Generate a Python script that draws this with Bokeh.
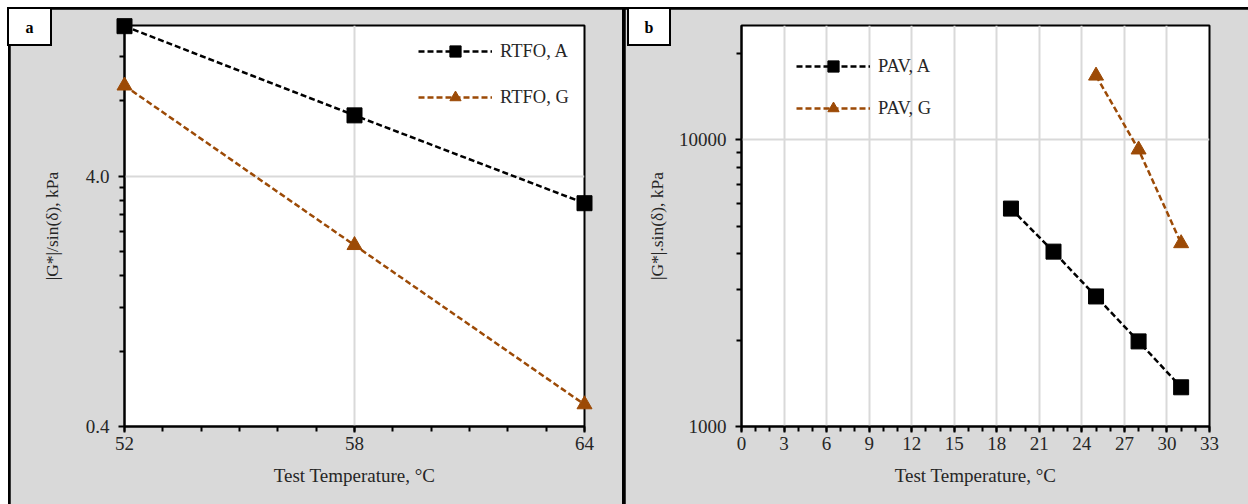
from bokeh.plotting import figure
from bokeh.layouts import row, column
from bokeh.models import (Range1d, FixedTicker, CustomJSTickFormatter, Legend,
                          LegendItem, Div)
from bokeh.embed import file_html
from bokeh.resources import INLINE

# ---------------- data ----------------
# panel a
temp_a = [52, 58, 64]
rtfo_A = [15.9, 7.0, 3.12]
rtfo_G = [9.2, 2.12, 0.49]
# panel b
temp_pav_A = [19, 22, 25, 28, 31]
pav_A = [5750, 4070, 2840, 1980, 1370]
temp_pav_G = [25, 28, 31]
pav_G = [16700, 9230, 4350]

# ticks
xticks_a = [52, 58, 64]
xminor_a = list(range(52, 65))
yticks_a = [0.4, 4.0]
yminor_a = [0.8, 1.2, 1.6, 2.0, 2.4, 2.8, 3.2, 3.6, 8.0, 12.0]
xticks_b = list(range(0, 34, 3))
xminor_b = list(range(0, 34))
yticks_b = [1000, 10000]
yminor_b = [2000, 3000, 4000, 5000, 6000, 7000, 8000, 9000, 20000]

BROWN = "#9C4A06"
GRAY_BG = "#d9d9d9"
GRID = "#d9d9d9"
FONT = "Liberation Serif"
TICK_FS = "19px"
XLAB_FS = "19px"
YLAB_FS = "17.5px"
LEG_FS = "18.5px"


def style(p, xlabel, ylabel, ylabel_standoff):
    p.background_fill_color = "white"
    p.border_fill_color = GRAY_BG
    p.outline_line_color = "black"
    p.outline_line_width = 2
    for ax in (p.xaxis[0], p.yaxis[0]):
        ax.axis_line_color = "black"
        ax.axis_line_width = 2
        ax.major_tick_line_color = "black"
        ax.major_tick_line_width = 2
        ax.minor_tick_line_color = "black"
        ax.minor_tick_line_width = 2
        ax.major_tick_in = 0
        ax.minor_tick_in = 0
        ax.major_tick_out = 6
        ax.minor_tick_out = 5
        ax.major_label_text_font = FONT
        ax.major_label_text_font_size = TICK_FS
        ax.major_label_text_color = "#262626"
        ax.axis_label_text_font = FONT
        ax.axis_label_text_font_style = "normal"
        ax.axis_label_text_color = "#262626"
    p.xaxis.axis_label = xlabel
    p.yaxis.axis_label = ylabel
    p.xaxis.axis_label_text_font_size = XLAB_FS
    p.yaxis.axis_label_text_font_size = YLAB_FS
    p.xaxis.major_label_standoff = 4
    p.xaxis.axis_label_standoff = 12
    p.yaxis.major_label_standoff = 9
    p.yaxis.axis_label_standoff = ylabel_standoff
    p.xgrid.grid_line_color = GRID
    p.ygrid.grid_line_color = GRID
    p.xgrid.grid_line_width = 2
    p.ygrid.grid_line_width = 2


def series(p, x, y, color, marker, size, label):
    ln = p.line(x, y, line_color=color, line_width=2.5, line_dash="6 3")
    sc = p.scatter(x, y, marker=marker, size=size, fill_color=color,
                   line_color=color, level="overlay")
    return LegendItem(label=label, renderers=[ln, sc])


def legend(p, items, loc, spacing):
    lg = Legend(items=items, location=loc, orientation="vertical",
                glyph_width=74, glyph_height=28, label_height=28,
                spacing=spacing, padding=0, margin=0, label_standoff=8,
                border_line_color=None, background_fill_alpha=0,
                label_text_font=FONT, label_text_font_size=LEG_FS,
                label_text_color="#262626")
    p.add_layout(lg)


def panel_tag(text, left, top, w, h):
    return Div(text=text, width=w, height=h, margin=0,
               styles={"position": "absolute", "left": f"{left}px",
                       "top": f"{top}px", "z-index": "10",
                       "background-color": "white",
                       "border": "2px solid black",
                       "box-sizing": "border-box",
                       "font-family": FONT, "font-weight": "bold",
                       "font-size": "16px", "text-align": "center",
                       "line-height": f"{h - 2}px", "color": "black"})


# ---------------- panel a ----------------
pa = figure(width=612, height=495, y_axis_type="log",
            x_range=Range1d(52, 64), y_range=Range1d(0.4, 16),
            output_backend="svg", toolbar_location=None,
            min_border_left=114, min_border_right=38,
            min_border_top=16, min_border_bottom=78,
            margin=(2, 0, 0, 2))
style(pa, "Test Temperature, °C", "|G*|/sin(δ), kPa", 21)
pa.xaxis.ticker = FixedTicker(ticks=xticks_a, minor_ticks=xminor_a)
pa.yaxis.ticker = FixedTicker(ticks=yticks_a, minor_ticks=yminor_a)
pa.yaxis.formatter = CustomJSTickFormatter(code="return tick.toFixed(1);")
it1 = series(pa, temp_a, rtfo_A, "black", "square", 15, "RTFO, A")
it2 = series(pa, temp_a, rtfo_G, BROWN, "triangle", 15, "RTFO, G")
legend(pa, [it1, it2], (294, 315), 18)

# ---------------- panel b ----------------
pb = figure(width=623, height=495, y_axis_type="log",
            x_range=Range1d(0, 33), y_range=Range1d(1000, 25000),
            output_backend="svg", toolbar_location=None,
            min_border_left=116, min_border_right=39,
            min_border_top=16, min_border_bottom=78,
            margin=(2, 0, 0, 3))
style(pb, "Test Temperature, °C", "|G*|.sin(δ), kPa", 9)
pb.xaxis.ticker = FixedTicker(ticks=xticks_b, minor_ticks=xminor_b)
pb.yaxis.ticker = FixedTicker(ticks=yticks_b, minor_ticks=yminor_b)
pb.yaxis.formatter = CustomJSTickFormatter(code="return tick.toFixed(0);")
it3 = series(pb, temp_pav_A, pav_A, "black", "square", 15, "PAV, A")
it4 = series(pb, temp_pav_G, pav_G, BROWN, "triangle", 15, "PAV, G")
legend(pb, [it3, it4], (55, 304), 14)

panels = row(pa, pb, styles={"background-color": "black"},
             margin=(7, 0, 0, 8), spacing=0)
tag_a = panel_tag("a", 7, 7, 45, 39)
tag_b = panel_tag("b", 627, 7, 44, 39)
p = column(panels, tag_a, tag_b, spacing=0,
           styles={"position": "relative"})

open("out.html", "w").write(file_html(p, INLINE))
